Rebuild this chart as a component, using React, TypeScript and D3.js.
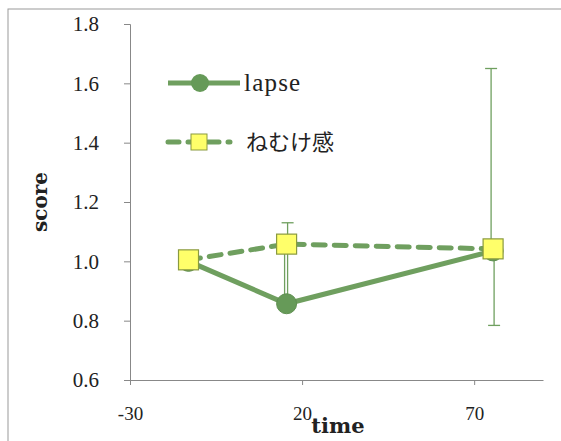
import * as d3 from "d3";
import { useEffect, useRef } from "react";

const times = [-13, 15.5, 75.5];
const lapse = [1.0, 0.857, 1.035];
const nemuke = [1.005, 1.058, 1.042];
const lapseErrUp = [0, 0.2, 0.615];
const nemukeErrUp = [0, 0.072, 0];
const nemukeErrDown = [0, 0.19, 0.258];
const yTicks = [0.6, 0.8, 1.0, 1.2, 1.4, 1.6, 1.8];
const xTicks = [-30, 20, 70];
const seriesNames = ["lapse", "ねむけ感"];

export default function App() {
  const svgRef = useRef<SVGSVGElement | null>(null);
  const width = 561;
  const height = 441;

  useEffect(() => {
    const svg = d3.select(svgRef.current);
    svg.selectAll("*").remove();

    const x = d3.scaleLinear().domain([-30, 90]).range([130, 543]);
    const y = d3.scaleLinear().domain([0.6, 1.8]).range([380, 24]);
    const green = "#6f9f5f";
    const serif = "Liberation Serif";
    const boldSerif = "DejaVu Serif";

    // scanned frame
    svg.append("rect").attr("x", 8).attr("y", 9).attr("width", 560).attr("height", 440)
      .attr("fill", "none").attr("stroke", "#9a9a9a").attr("stroke-width", 1);

    // y axis
    const yAxis = svg.append("g").attr("transform", `translate(${x(-30)},0)`)
      .call(d3.axisLeft(y).tickValues(yTicks).tickSize(6).tickFormat(d3.format(".1f")))
      .attr("font-family", serif).attr("font-size", 21);
    yAxis.select(".domain").attr("stroke", "#888");
    yAxis.selectAll(".tick line").attr("stroke", "#888");
    yAxis.selectAll("text").attr("fill", "#222").attr("x", -31);

    // x axis
    const xAxis = svg.append("g").attr("transform", `translate(0,${y(0.6)})`)
      .call(d3.axisBottom(x).tickValues(xTicks).tickSize(5).tickSizeOuter(0)
        .tickFormat((d) => (d < 0 ? "-" + Math.abs(+d) : String(d))))
      .attr("font-family", serif).attr("font-size", 19);
    xAxis.select(".domain").attr("stroke", "#888");
    xAxis.selectAll(".tick line").attr("stroke", "#888");
    xAxis.selectAll("text").attr("fill", "#222").attr("y", 27);

    // axis titles
    svg.append("text").attr("transform", "translate(47,202) rotate(-90)")
      .attr("text-anchor", "middle").attr("font-family", boldSerif).attr("font-weight", "bold")
      .attr("font-size", 20).attr("fill", "#222").text("score");
    svg.append("text").attr("x", 338).attr("y", 433).attr("text-anchor", "middle")
      .attr("font-family", boldSerif).attr("font-weight", "bold").attr("font-size", 21)
      .attr("fill", "#222").text("time");

    // error bars
    const errG = svg.append("g").attr("stroke", green).attr("stroke-width", 1.3);
    const bar = (xp: number, v0: number, v1: number) => {
      errG.append("line").attr("x1", xp).attr("x2", xp).attr("y1", y(v0)).attr("y2", y(v1));
      errG.append("line").attr("x1", xp - 6).attr("x2", xp + 6).attr("y1", y(v1)).attr("y2", y(v1));
    };
    times.forEach((t, i) => {
      if (lapseErrUp[i] > 0) bar(x(t) - 2, lapse[i], lapse[i] + lapseErrUp[i]);
      if (nemukeErrUp[i] > 0) bar(x(t) + 1, nemuke[i], nemuke[i] + nemukeErrUp[i]);
      if (nemukeErrDown[i] > 0) bar(x(t) + 1, nemuke[i], nemuke[i] - nemukeErrDown[i]);
    });

    const line = d3.line<number>().x((_, i) => x(times[i])).y((d) => y(d));

    // nemuke dashed line
    svg.append("path").attr("d", line(nemuke)).attr("fill", "none").attr("stroke", green)
      .attr("stroke-width", 5).attr("stroke-dasharray", "12,9").attr("stroke-linecap", "round");
    // lapse solid line
    svg.append("path").attr("d", line(lapse)).attr("fill", "none").attr("stroke", green)
      .attr("stroke-width", 5);

    svg.append("g").selectAll("circle").data(lapse).join("circle")
      .attr("cx", (_, i) => x(times[i])).attr("cy", (d) => y(d)).attr("r", 10)
      .attr("fill", "#669a58").attr("stroke", "#5e8f50");
    svg.append("g").selectAll("rect").data(nemuke).join("rect")
      .attr("x", (_, i) => x(times[i]) - 10).attr("y", (d) => y(d) - 10)
      .attr("width", 20).attr("height", 20)
      .attr("fill", "#ffff6a").attr("stroke", "#8a9a40").attr("stroke-width", 1.2);

    // legend
    const lg = svg.append("g");
    lg.append("line").attr("x1", 168).attr("x2", 240).attr("y1", 83).attr("y2", 83)
      .attr("stroke", green).attr("stroke-width", 5);
    lg.append("circle").attr("cx", 200).attr("cy", 83).attr("r", 9).attr("fill", "#669a58");
    lg.append("text").attr("x", 244).attr("y", 91).attr("font-family", serif)
      .attr("font-size", 25).attr("letter-spacing", 1.2).attr("fill", "#222").text(seriesNames[0]);
    lg.append("line").attr("x1", 168).attr("x2", 230).attr("y1", 142).attr("y2", 142)
      .attr("stroke", green).attr("stroke-width", 5).attr("stroke-dasharray", "11,9")
      .attr("stroke-linecap", "round");
    lg.append("rect").attr("x", 191).attr("y", 134).attr("width", 16).attr("height", 16)
      .attr("fill", "#ffff6a").attr("stroke", "#8a9a40");
    lg.append("text").attr("x", 246).attr("y", 150)
      .attr("font-family", "Noto Sans CJK JP")
      .attr("font-size", 22).attr("fill", "#222").text(seriesNames[1]);
  }, []);

  return (
    <div style={{ position: "absolute", left: 0, top: 0 }}>
      <svg ref={svgRef} width={width} height={height} style={{ display: "block", background: "#fff" }}></svg>
    </div>
  );
}
